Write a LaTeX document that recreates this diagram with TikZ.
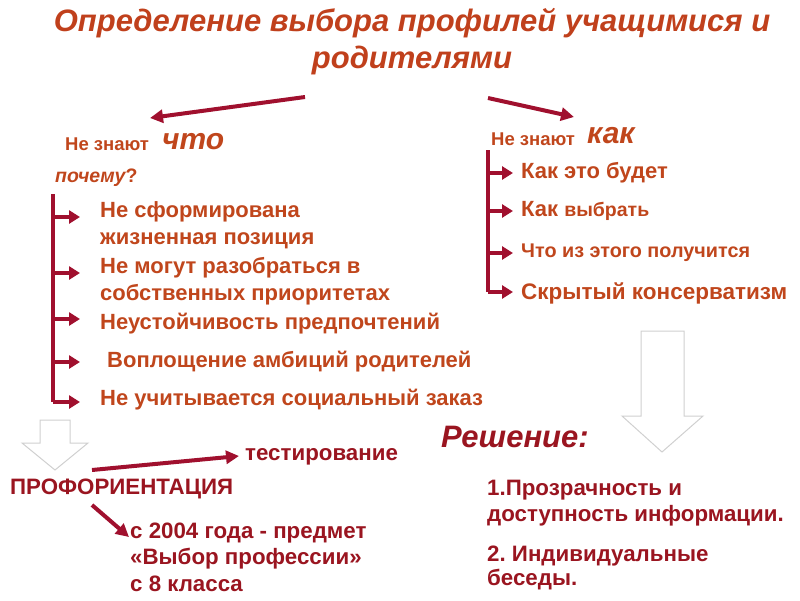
\documentclass[tikz,border=0pt]{standalone}
\usepackage{fontspec}
\setmainfont{Liberation Sans}
\usetikzlibrary{arrows.meta}
\frenchspacing
\definecolor{ttl}{HTML}{C0401C}
\definecolor{itm}{HTML}{C0461C}
\definecolor{arr}{HTML}{A0102E}
\definecolor{drk}{HTML}{9A1520}
\definecolor{blk}{HTML}{D0D0D0}
\tikzset{
  ttlstyle/.style={text=ttl,font=\bfseries\itshape\fontsize{31}{34}\selectfont,inner sep=0pt},
  itemtxt/.style={text=itm,font=\bfseries\fontsize{22}{27}\selectfont,anchor=west,inner sep=0pt,align=left},
  smalltxt/.style={text=itm,font=\bfseries\fontsize{18.5}{20}\selectfont,anchor=west,inner sep=0pt},
  bigitalic/.style={text=itm,font=\bfseries\itshape\fontsize{30}{32}\selectfont,anchor=west,inner sep=0pt},
  darktxt/.style={text=drk,font=\bfseries\fontsize{22.3}{26.5}\selectfont,anchor=west,inner sep=0pt,align=left},
  bigarrow/.style={draw=arr,line width=4pt,-{Triangle[length=13pt,width=13pt]}},
  tick/.style={draw=arr,line width=3.5pt,-{Triangle[length=11pt,width=13pt]}},
  bracket/.style={draw=arr,line width=3.5pt},
  blockarrow/.style={draw=blk,line width=1pt,fill=white}
}
\begin{document}
\begin{tikzpicture}[x=1pt,y=-1pt]
\useasboundingbox (0,0) rectangle (800,600);
% title
\node[ttlstyle] (t1) at (412,23) {Определение выбора профилей учащимися и};
\node[ttlstyle] (t2) at (412,60) {родителями};
% top arrows
\coordinate (la0) at (305,97);
\coordinate (la1) at (150,118);
\coordinate (ra0) at (488,98);
\coordinate (ra1) at (574,117);
\draw[bigarrow] (la0) -- (la1);
\draw[bigarrow] (ra0) -- (ra1);
% left header
\node[smalltxt] (lh) at (65,144) {Не знают};
\node[bigitalic] (lhw) at (162,142) {что};
\node[text=itm,font=\bfseries\itshape\fontsize{19.5}{20}\selectfont,anchor=west,inner sep=0pt] (why) at (55,178) {почему\upshape ?};
% right header
\node[smalltxt] (rh) at (491,139) {Не знают};
\node[bigitalic] (rhw) at (587,136) {как};
% left bracket
\coordinate (lb0) at (53,194);
\coordinate (lb1) at (53,402);
\draw[bracket] (lb0) -- (lb1);
\foreach \y/\n in {217/a,273/b,319/c,362/d,402/e}{
  \coordinate (lt\n) at (53,\y);
  \coordinate (le\n) at (80,\y);
  \draw[tick] (lt\n) -- (le\n);
}
\node[itemtxt] (i1) at (100,225) {Не сформирована\\жизненная позиция};
\node[itemtxt] (i2) at (100,281) {Не могут разобраться в\\собственных приоритетах};
\node[itemtxt] (i3) at (100,324) {Неустойчивость предпочтений};
\node[itemtxt] (i4) at (107,362) {Воплощение амбиций родителей};
\node[itemtxt] (i5) at (100,400) {Не учитывается социальный заказ};
% right bracket
\coordinate (rb0) at (488,150);
\coordinate (rb1) at (488,292);
\draw[bracket] (rb0) -- (rb1);
\foreach \y/\n in {173/a,211/b,253/c,292/d}{
  \coordinate (rt\n) at (488,\y);
  \coordinate (re\n) at (513,\y);
  \draw[tick] (rt\n) -- (re\n);
}
\node[itemtxt] (j1) at (521,173) {Как это будет};
\node[itemtxt] (j2) at (521,211) {Как {\fontsize{19.5}{20}\selectfont выбрать}};
\node[itemtxt,font=\bfseries\fontsize{19.8}{22}\selectfont] (j3) at (521,253) {Что из этого получится};
\node[itemtxt,font=\bfseries\fontsize{22.5}{27}\selectfont] (j4) at (521,293) {Скрытый консерватизм};
% block arrows
\draw[blockarrow] (40,420) -- (70,420) -- (70,443) -- (88,443) -- (55,470) -- (22,443) -- (40,443) -- cycle;
\draw[blockarrow] (641,331) -- (684,331) -- (684,416) -- (703,416) -- (662,452) -- (622,416) -- (641,416) -- cycle;
% solution
\node[text=drk,font=\bfseries\itshape\fontsize{31}{33}\selectfont,anchor=west,inner sep=0pt] (sol) at (441,437) {Решение:};
\node[darktxt] (s1) at (487,503) {1.Прозрачность и\\доступность информации.};
\node[darktxt,font=\bfseries\fontsize{22.3}{24.5}\selectfont] (s2) at (487,568) {2. Индивидуальные\\беседы.};
% profor
\node[darktxt] (pro) at (10,489) {ПРОФОРИЕНТАЦИЯ};
\node[darktxt] (test) at (245,457) {тестирование};
\node[darktxt] (c1) at (130,557) {с 2004 года - предмет\\«Выбор профессии»\\с 8 класса};
\coordinate (pa0) at (92,470);
\coordinate (pa1) at (239,456);
\coordinate (pb0) at (92,505);
\coordinate (pb1) at (129,537);
\draw[bigarrow] (pa0) -- (pa1);
\draw[bigarrow] (pb0) -- (pb1);
\end{tikzpicture}
\end{document}
